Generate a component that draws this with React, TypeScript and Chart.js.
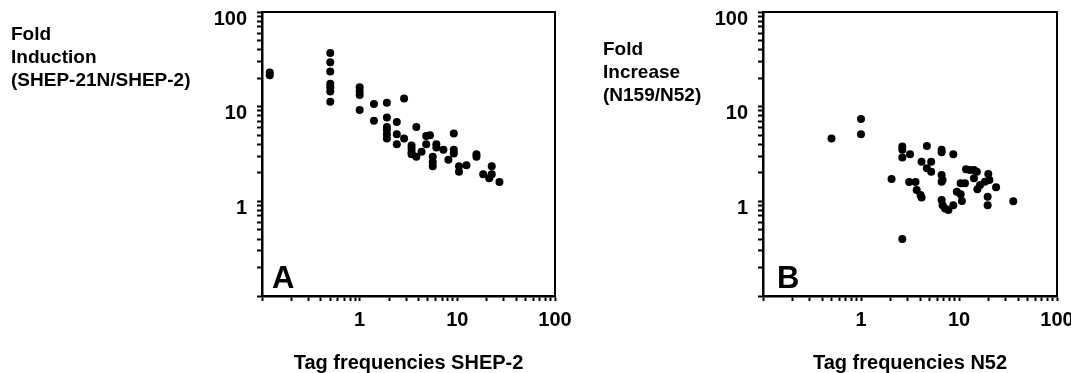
import React, { useEffect, useRef } from 'react';
import { Chart, registerables } from 'chart.js';

Chart.register(...registerables);

const FONT = '"Liberation Sans", Arial, Helvetica, sans-serif';

// Panel A: Tag frequencies SHEP-2 vs Fold Induction
const A_X = [
  0.12, 0.12,
  0.5, 0.5, 0.5, 0.5, 0.5, 0.5, 0.5,
  1, 1, 1, 1,
  1.4, 1.4,
  1.9, 1.9, 1.9, 1.9, 1.9, 1.9,
  2.4, 2.4, 2.4,
  2.85, 2.85,
  3.4, 3.4, 3.4, 3.4,
  3.8, 3.8,
  4.3,
  4.8, 4.8,
  5.25,
  5.6, 5.6, 5.6,
  6.1, 6.1,
  7.2,
  8.1,
  9.2, 9.2, 9.2,
  10.4, 10.4,
  12.4,
  15.7, 15.7,
  18.4,
  21.2,
  22.5, 22.5,
  27,
];
const A_Y = [
  23, 21.5,
  37, 29.5, 23.5, 17.5, 16, 14.5, 11.3,
  16, 14.5, 13.3, 9.2,
  10.7, 7.1,
  11, 7.7, 6.1, 5.7, 5.1, 4.6,
  6.9, 5.1, 4.0,
  12.2, 4.6,
  3.9, 3.6, 3.3, 3.15,
  6.1, 2.95,
  3.35,
  4.9, 4.0,
  5.0,
  2.95, 2.6, 2.35,
  4.0, 3.7,
  3.5,
  2.75,
  5.2, 3.5, 3.2,
  2.35, 2.05,
  2.4,
  3.15, 2.95,
  1.93,
  1.75,
  2.35, 1.93,
  1.6,
];

// Panel B: Tag frequencies N52 vs Fold Increase
const B_X = [
  0.5, 1, 1, 2.05,
  2.64, 2.64, 2.64, 3.16, 2.64,
  3.1, 3.6,
  3.7, 4.05, 4.15,
  4.15, 4.7, 4.7, 5.2, 5.2,
  6.65, 6.65,
  6.65, 6.8, 6.65,
  6.65, 6.8, 7.2, 7.8, 8.75,
  8.75,
  9.5, 10.4, 10.7,
  10.4, 11.5,
  11.8, 12.9,
  14.2, 15.2, 14.2,
  15.4, 16.4,
  18.4, 19.9, 20.4,
  19.6, 19.6,
  23.9,
  35.8,
];
const B_Y = [
  4.6, 7.4, 5.1, 1.72,
  3.8, 3.5, 2.9, 3.15, 0.40,
  1.6, 1.6,
  1.32, 1.17, 1.1,
  2.62, 3.85, 2.23, 2.05, 2.62,
  3.5, 3.3,
  1.9, 1.68, 1.61,
  1.03, 0.91, 0.84, 0.81, 0.91,
  3.15,
  1.26, 1.19, 1.01,
  1.55, 1.55,
  2.18, 2.14,
  2.14, 2.05, 1.75,
  1.34, 1.49,
  1.61, 1.94, 1.68,
  1.12, 0.91,
  1.41,
  1.0,
];

const AXIS_TICKS = [
  0.1, 0.2, 0.3, 0.4, 0.5, 0.6, 0.7, 0.8, 0.9,
  1, 2, 3, 4, 5, 6, 7, 8, 9,
  10, 20, 30, 40, 50, 60, 70, 80, 90,
  100,
];
const LABELED_TICKS = [1, 10, 100];
const TICK_LABELS = ['1', '10', '100'];

const A_X_TITLE = 'Tag frequencies SHEP-2';
const B_X_TITLE = 'Tag frequencies N52';
const A_Y_TITLE = ['Fold', 'Induction', '(SHEP-21N/SHEP-2)'];
const B_Y_TITLE = ['Fold', 'Increase', '(N159/N52)'];
const A_LETTER = 'A';
const B_LETTER = 'B';

const decorPlugin = {
  id: 'decor',
  afterDraw(chart: any, _args: any, opts: any) {
    const { ctx, chartArea } = chart;
    ctx.save();
    ctx.strokeStyle = '#000';
    ctx.lineWidth = 2;
    ctx.beginPath();
    ctx.moveTo(chartArea.left, chartArea.top);
    ctx.lineTo(chartArea.right, chartArea.top);
    ctx.lineTo(chartArea.right, chartArea.bottom);
    ctx.stroke();
    ctx.fillStyle = '#000';
    ctx.font = `bold 19px ${FONT}`;
    ctx.textAlign = 'left';
    ctx.textBaseline = 'middle';
    (opts.lines as string[]).forEach((t, i) => {
      ctx.fillText(t, opts.titleX, opts.titleY + i * opts.lineStep);
    });
    ctx.font = `bold 31px ${FONT}`;
    ctx.textBaseline = 'alphabetic';
    ctx.fillText(opts.letter, chartArea.left + opts.letterDx, chartArea.bottom - opts.letterDy);
    ctx.restore();
  },
};

type PanelProps = {
  xs: number[];
  ys: number[];
  xTitle: string;
  yTitle: string[];
  letter: string;
  left: number;
  width: number;
  yAxisWidth: number;
  padRight: number;
  titleX: number;
  titleY: number;
  letterDx: number;
};

function Panel(p: PanelProps) {
  const ref = useRef<HTMLCanvasElement>(null);
  useEffect(() => {
    if (!ref.current) return;
    const tickLabel = (v: any) => {
      const i = LABELED_TICKS.indexOf(Number(v));
      return i >= 0 ? TICK_LABELS[i] : '';
    };
    const setTicks = (s: any) => {
      s.ticks = AXIS_TICKS.map((v) => ({ value: v, major: LABELED_TICKS.includes(v) }));
    };
    const tickFont = { family: FONT, size: 20, weight: 'bold' as const };
    const grid = {
      display: true,
      drawOnChartArea: false,
      drawTicks: true,
      tickLength: 5,
      tickWidth: 2,
      tickColor: '#000',
    };
    const border = { display: true, color: '#000', width: 2.5 };
    const chart = new Chart(ref.current, {
      type: 'scatter',
      data: {
        datasets: [
          {
            data: p.xs.map((x, i) => ({ x, y: p.ys[i] })),
            backgroundColor: '#000',
            borderColor: '#000',
            borderWidth: 0,
            pointRadius: 4,
          },
        ],
      },
      options: {
        responsive: false,
        animation: false,
        layout: { padding: { left: 0, top: 12, right: p.padRight, bottom: 0 } },
        plugins: {
          legend: { display: false },
          tooltip: { enabled: false },
          decor: {
            lines: p.yTitle,
            titleX: p.titleX,
            titleY: p.titleY,
            lineStep: 23,
            letter: p.letter,
            letterDx: p.letterDx,
            letterDy: 8,
          },
        } as any,
        scales: {
          x: {
            type: 'logarithmic',
            position: 'bottom',
            min: 0.1,
            max: 100,
            afterBuildTicks: setTicks,
            afterFit: (s: any) => {
              s.height = 77;
              s.paddingLeft = 0;
              s.paddingRight = 0;
            },
            ticks: {
              autoSkip: false,
              maxRotation: 0,
              minRotation: 0,
              color: '#000',
              font: tickFont,
              padding: 7,
              callback: tickLabel,
            },
            grid,
            border,
            title: {
              display: true,
              text: p.xTitle,
              color: '#000',
              font: { family: FONT, size: 20, weight: 'bold', lineHeight: 1 },
              padding: { top: 0, bottom: 0 },
            },
          },
          y: {
            type: 'logarithmic',
            position: 'left',
            min: 0.1,
            max: 100,
            afterBuildTicks: setTicks,
            afterFit: (s: any) => {
              s.width = p.yAxisWidth;
              s.paddingTop = 0;
              s.paddingBottom = 0;
            },
            ticks: {
              autoSkip: false,
              color: '#000',
              font: tickFont,
              padding: 10,
              labelOffset: 7,
              callback: tickLabel,
            },
            grid,
            border,
          },
        },
      } as any,
      plugins: [decorPlugin as any],
    });
    return () => chart.destroy();
  }, []);
  return (
    <canvas
      ref={ref}
      width={p.width}
      height={373}
      style={{ position: 'absolute', left: p.left, top: 0, width: p.width, height: 373 }}
    />
  );
}

export default function App() {
  return (
    <div
      style={{
        position: 'fixed',
        left: 0,
        top: 0,
        width: 1071,
        height: 373,
        overflow: 'hidden',
        background: '#fff',
      }}
    >
      <Panel
        xs={A_X}
        ys={A_Y}
        xTitle={A_X_TITLE}
        yTitle={A_Y_TITLE}
        letter={A_LETTER}
        left={0}
        width={620}
        yAxisWidth={262}
        padRight={65}
        titleX={11}
        titleY={35}
        letterDx={10}
      />
      <Panel
        xs={B_X}
        ys={B_Y}
        xTitle={B_X_TITLE}
        yTitle={B_Y_TITLE}
        letter={B_LETTER}
        left={560}
        width={530}
        yAxisWidth={203}
        padRight={33}
        titleX={43}
        titleY={50}
        letterDx={14}
      />
    </div>
  );
}
